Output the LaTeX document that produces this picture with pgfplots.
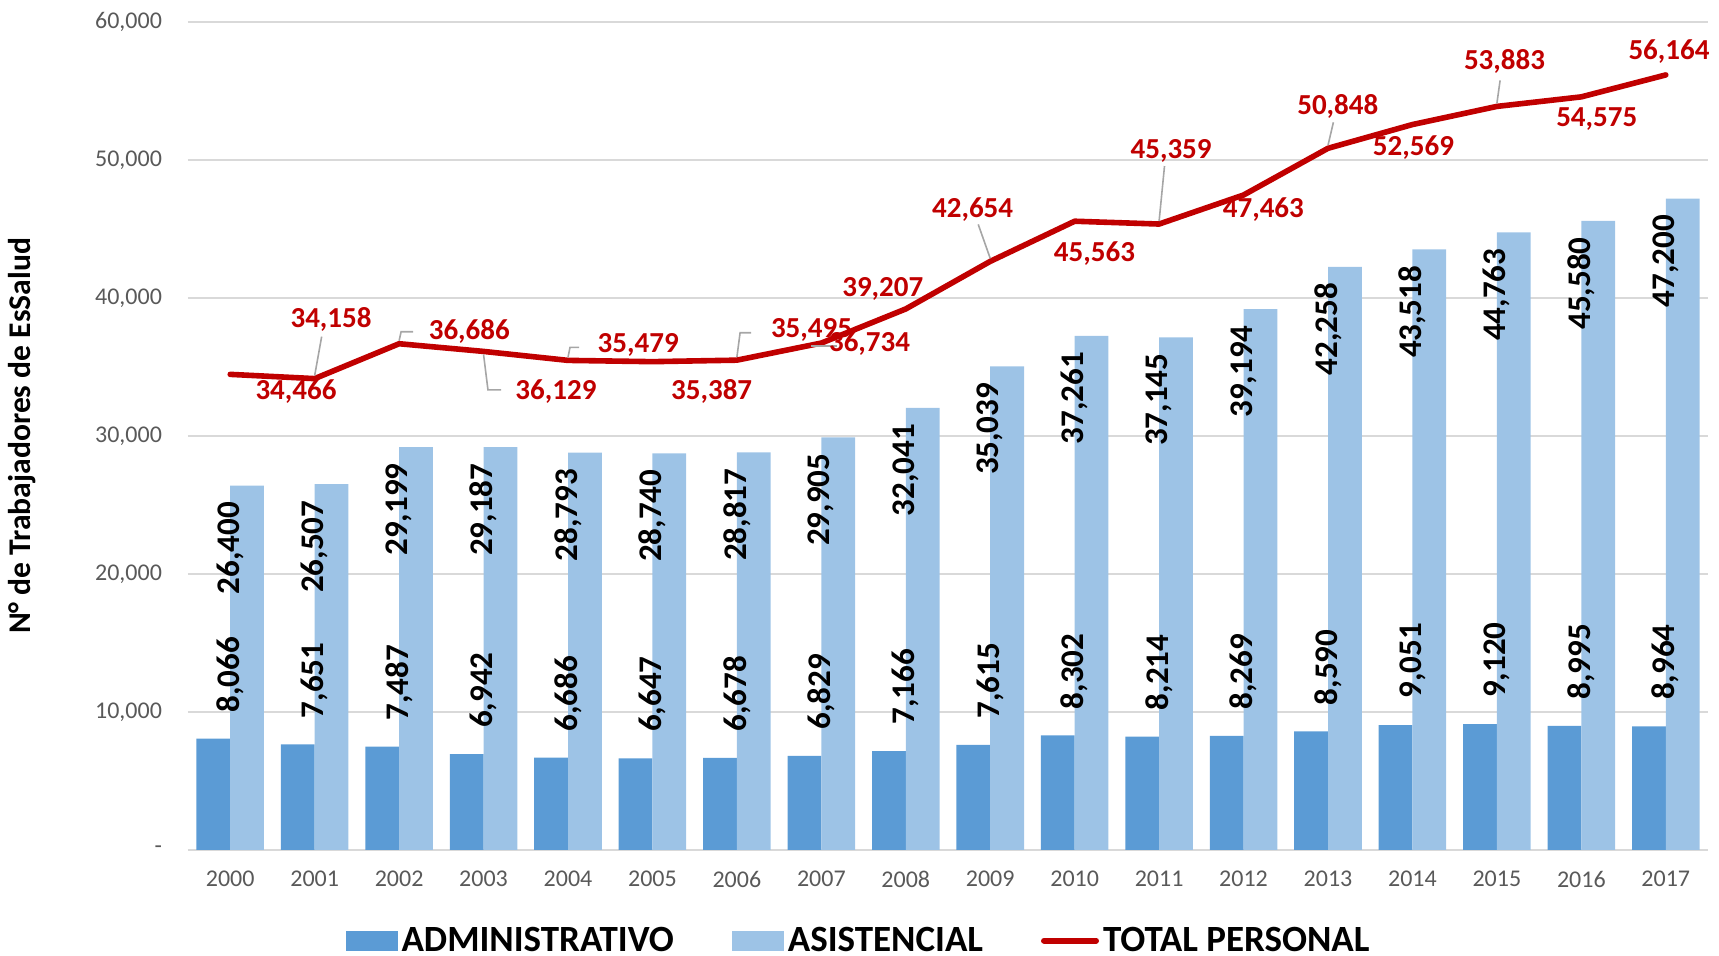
\documentclass[border=0pt]{standalone}
\usepackage{pgfplots}
\pgfplotsset{compat=1.18}
\usepackage{pgfplotstable}
\usepackage{fontspec}
\setmainfont{Carlito}

\definecolor{admin}{HTML}{5B9BD5}
\definecolor{asist}{HTML}{9DC3E6}
\definecolor{total}{HTML}{C00000}
\definecolor{gridc}{HTML}{D9D9D9}
\definecolor{tickc}{HTML}{595959}
\definecolor{leader}{HTML}{A6A6A6}

% personal de EsSalud por año (0 = 2000)
\pgfplotstableread{
x admin asist
0  8066 26400
1  7651 26507
2  7487 29199
3  6942 29187
4  6686 28793
5  6647 28740
6  6678 28817
7  6829 29905
8  7166 32041
9  7615 35039
10 8302 37261
11 8214 37145
12 8269 39194
13 8590 42258
14 9051 43518
15 9120 44763
16 8995 45580
17 8964 47200
}\bars

% total, con desplazamiento de la etiqueta (pt)
\pgfplotstableread{
x total dx dy
0  34466 32.9 -8.8
1  34158 8.2 29.6
2  36686 35.1 6.0
3  36129 36.2 -20.3
4  35479 35.1 7.7
5  35387 29.6 -14.8
6  35495 37.3 15.3
7  36734 24.1 0
8  39207 -11.5 9.9
9  42654 -8.8 25.8
10 45563 9.9 -16.4
11 45359 6.0 36.7
12 47463 9.9 -7.1
13 50848 4.9 20.8
14 52569 0.5 -11.5
15 53883 3.8 22.5
16 54575 7.7 -11.0
17 56164 1.6 11.5
}\totals

\begin{document}
\begin{tikzpicture}
\path[use as bounding box] (-94pt,-53pt) rectangle (765.5pt,425pt);
\begin{axis}[
  at={(0,0)}, anchor=south west,
  width=760pt, height=414pt, scale only axis,
  clip=false,
  xmin=-0.5, xmax=17.5, ymin=0, ymax=60000,
  xtick={0,...,17},
  xticklabels={2000,2001,2002,2003,2004,2005,2006,2007,2008,2009,2010,2011,2012,2013,2014,2015,2016,2017},
  ytick={0,10000,20000,30000,40000,50000,60000},
  yticklabels={{-\hspace{6pt}},{10,000},{20,000},{30,000},{40,000},{50,000},{60,000}},
  major tick length=0pt,
  ymajorgrids, grid style={gridc, line width=1pt},
  axis line style={draw=none},
  ticklabel style={font=\fontsize{12}{14}\selectfont, text=tickc},
  yticklabel style={xshift=-9.5pt},
  xticklabel style={yshift=-7pt},
  ylabel={N° de Trabajadores de EsSalud},
  ylabel style={at={(axis description cs:-0.1092,0.5)}, anchor=center, font=\fontsize{15.8}{18}\selectfont\bfseries},
  legend style={at={(0.4418,-0.1094)}, anchor=center, draw=none, fill=none,
    legend columns=3, font=\fontsize{18.5}{22}\selectfont\bfseries,
    /tikz/every even column/.append style={column sep=27pt}},
  legend cell align=left,
  /pgf/number format/assume math mode=true,
]
\addplot[ybar, bar width=0.4, bar shift=-0.2, fill=admin, draw=none,
  nodes near coords,
  nodes near coords style={rotate=90, anchor=west, inner xsep=13pt, font=\fontsize{16.5}{18}\selectfont\bfseries, text=black},
  legend image code/.code={\fill[admin] (0pt,-5pt) rectangle (26pt,5pt);}]
  table[x=x, y=admin]{\bars};
\addplot[ybar, bar width=0.4, bar shift=0.2, fill=asist, draw=none,
  nodes near coords,
  nodes near coords style={rotate=90, anchor=east, inner xsep=8pt, font=\fontsize{16.5}{18}\selectfont\bfseries, text=black},
  legend image code/.code={\fill[asist] (0pt,-5pt) rectangle (26pt,5pt);}]
  table[x=x, y=asist]{\bars};
\addplot[sharp plot, total, line width=2.8pt, no marks, line cap=round, line join=round,
  visualization depends on={\thisrow{dx}\as\dx},
  visualization depends on={\thisrow{dy}\as\dy},
  nodes near coords,
  nodes near coords style={anchor=center, xshift=\dx pt, yshift=\dy pt, font=\fontsize{14.5}{16}\selectfont\bfseries, text=total},
  legend image code/.code={\draw[total, line width=3pt] (0pt,0pt) -- (26pt,0pt);}]
  table[x=x, y=total]{\totals};

% líneas guía de las etiquetas
\draw[leader, line width=0.8pt] (axis cs:1,34158) ++(0pt,1.5pt) -- ++(3.5pt,19.5pt);
\draw[leader, line width=0.8pt] (axis cs:2,36686) ++(0pt,1.5pt) -- ++(1pt,4.5pt) -- ++(6pt,0pt);
\draw[leader, line width=0.8pt] (axis cs:3,36129) ++(0pt,-1.5pt) -- ++(2.2pt,-17.7pt) -- ++(6.6pt,0pt);
\draw[leader, line width=0.8pt] (axis cs:4,35479) ++(0pt,1.5pt) -- ++(1pt,5pt) -- ++(4.5pt,0pt);
\draw[leader, line width=0.8pt] (axis cs:6,35495) ++(0pt,1.5pt) -- ++(1.6pt,12.2pt) -- ++(5.5pt,0pt);
\draw[leader, line width=0.8pt] (axis cs:7,36734) ++(-5pt,-1.5pt) -- ++(13pt,0pt);
\draw[leader, line width=0.8pt] (axis cs:9,42654) ++(0pt,1.5pt) -- ++(-6pt,17pt);
\draw[leader, line width=0.8pt] (axis cs:11,45359) ++(0pt,1.5pt) -- ++(2.7pt,27.5pt);
\draw[leader, line width=0.8pt] (axis cs:13,50848) ++(0pt,1.5pt) -- ++(2.7pt,11.5pt);
\draw[leader, line width=0.8pt] (axis cs:15,53883) ++(0pt,1.5pt) -- ++(1.6pt,11.5pt);

\legend{ADMINISTRATIVO, ASISTENCIAL, TOTAL PERSONAL}
\end{axis}
\end{tikzpicture}
\end{document}
